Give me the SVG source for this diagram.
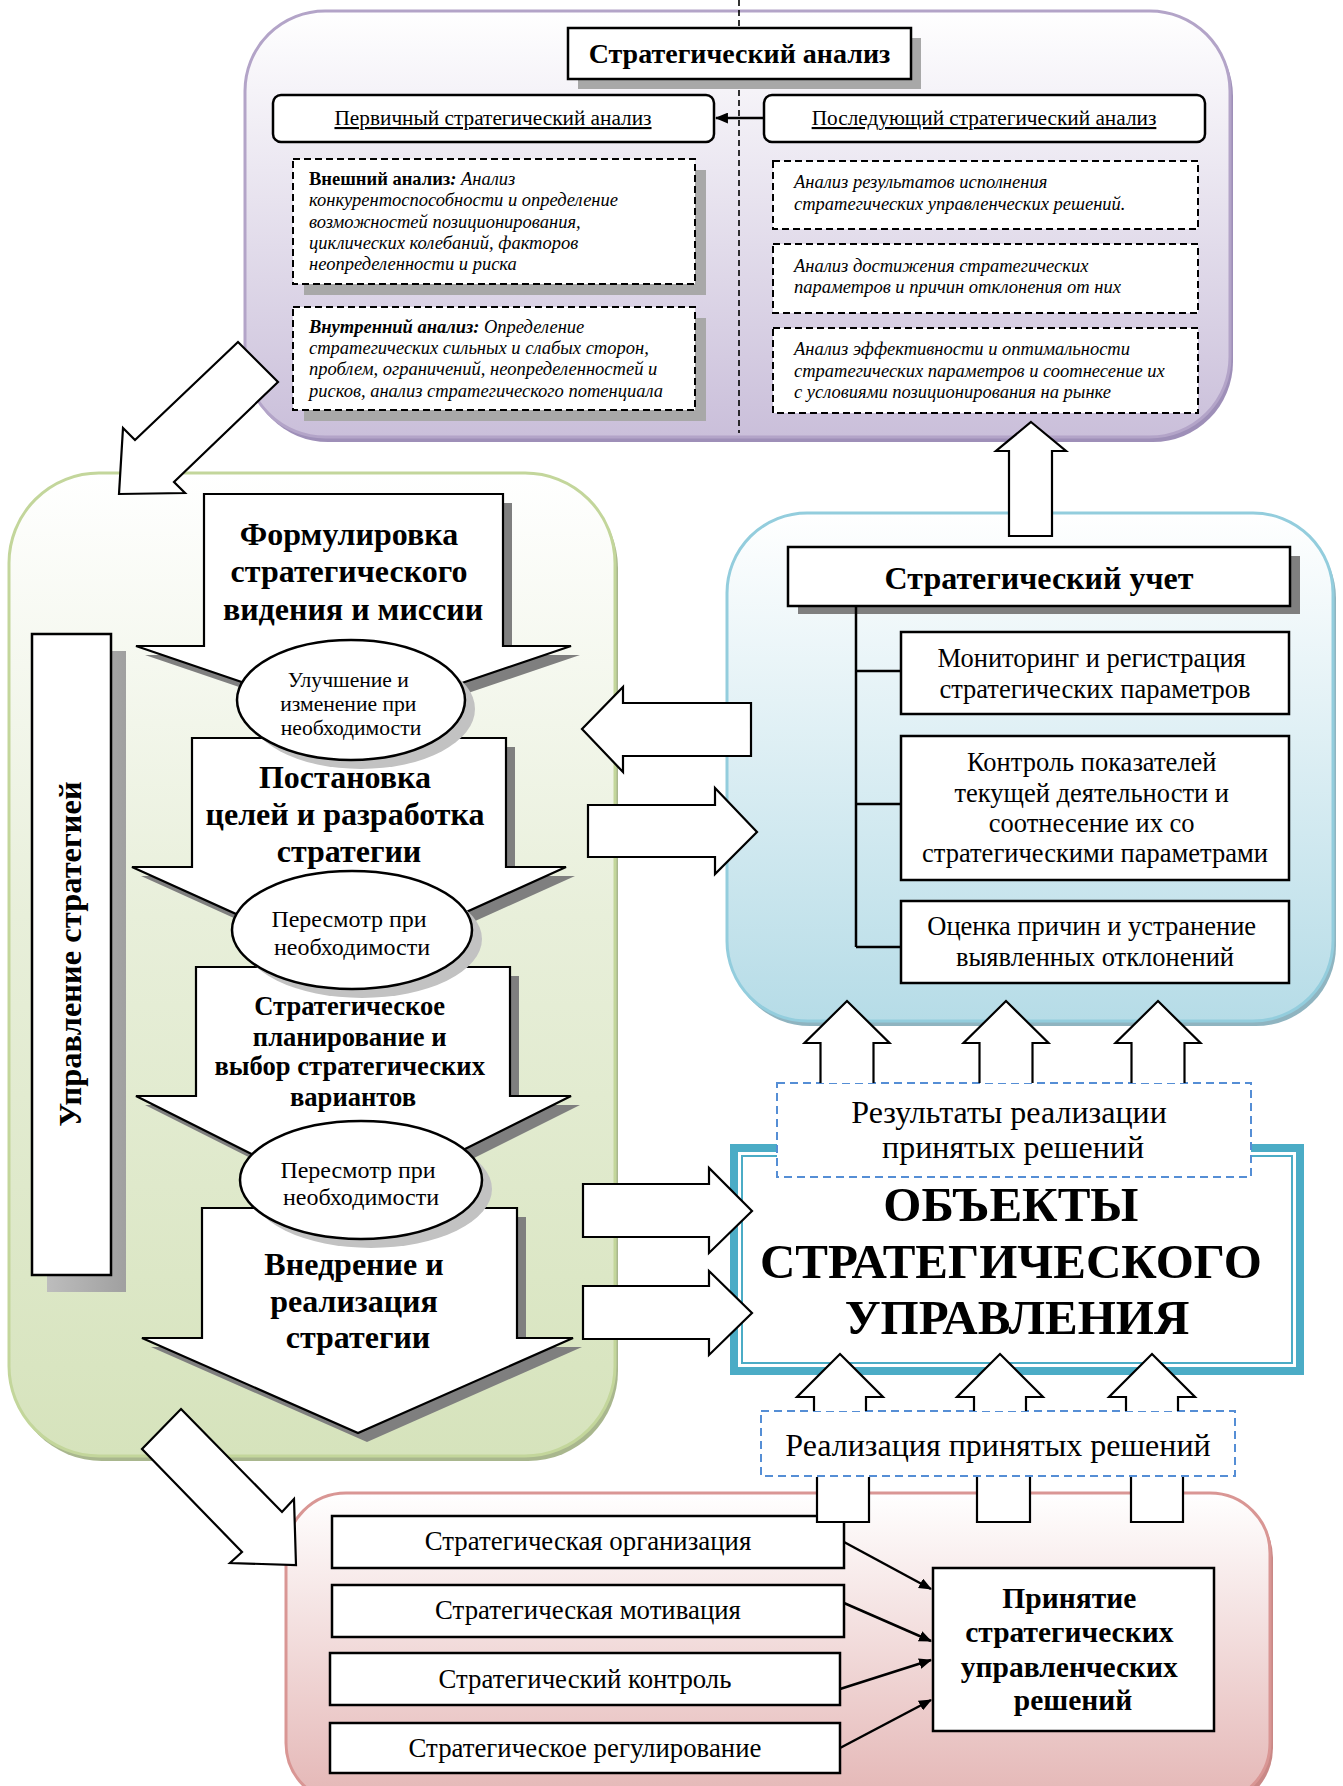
<svg xmlns="http://www.w3.org/2000/svg" width="1343" height="1786" viewBox="0 0 1343 1786">
  <defs>
    <linearGradient id="gPurple" x1="0" y1="0" x2="0" y2="1">
      <stop offset="0" stop-color="#ffffff"/>
      <stop offset="1" stop-color="#cabfda"/>
    </linearGradient>
    <linearGradient id="gGreen" x1="0" y1="0" x2="0" y2="1">
      <stop offset="0" stop-color="#ffffff"/>
      <stop offset="0.45" stop-color="#e8efda"/>
      <stop offset="1" stop-color="#d6e3bc"/>
    </linearGradient>
    <linearGradient id="gBlue" x1="0" y1="0" x2="0" y2="1">
      <stop offset="0" stop-color="#ffffff"/>
      <stop offset="1" stop-color="#b6dce7"/>
    </linearGradient>
    <linearGradient id="gPink" x1="0" y1="0" x2="0" y2="1">
      <stop offset="0" stop-color="#ffffff"/>
      <stop offset="1" stop-color="#e4b6b5"/>
    </linearGradient>
    <linearGradient id="gShadowV" x1="0" y1="0" x2="1" y2="0">
      <stop offset="0" stop-color="#bdbdbd"/>
      <stop offset="1" stop-color="#a0a0a0"/>
    </linearGradient>
    <marker id="ah" viewBox="0 0 12 10" refX="11" refY="5" markerWidth="13" markerHeight="11" markerUnits="userSpaceOnUse" orient="auto">
      <path d="M0,0 L12,5 L0,10 z" fill="#000"/>
    </marker>
    <style>
      .f { font-family: "Liberation Serif", "Times New Roman", serif; fill: #000; }
      .b { font-weight: bold; }
      .i { font-style: italic; }
      .c { text-anchor: middle; }
      .bx { fill: #fff; stroke: #000; stroke-width: 2.5; }
      .arw { fill: #fff; stroke: #000; stroke-width: 2.2; stroke-linejoin: miter; }
      .dsh { fill: #fff; stroke: #000; stroke-width: 2; stroke-dasharray: 7 4; }
      .bdash { fill: #fff; stroke: #558ed5; stroke-width: 2; stroke-dasharray: 8 5; }
      .sd { fill: #7f7f7f; }
      .sl { fill: #a8a8a8; }
      .se { fill: #c2c2c2; }
      .ln { fill: none; stroke: #000; stroke-width: 2.5; }
    </style>
  </defs>

  <rect x="0" y="0" width="1343" height="1786" fill="#ffffff"/>

  <!-- ===== Strategic analysis panel ===== -->
  <g id="panel-analysis">
    <rect x="248" y="16" width="985" height="426" rx="80" fill="#9e8fb8"/>
    <rect x="245" y="11" width="985" height="426" rx="80" fill="url(#gPurple)" stroke="#b3a4c8" stroke-width="3"/>
    <line x1="739" y1="0" x2="739" y2="433" stroke="#000" stroke-width="1.6" stroke-dasharray="6 4"/>
  </g>

  <g id="node-analysis-title">
    <rect x="578" y="38" width="343" height="51" class="sl"/>
    <rect x="568" y="28" width="343" height="51" class="bx"/>
    <text x="739.5" y="63" class="f b c" font-size="28">Стратегический анализ</text>
  </g>

  <g id="node-primary">
    <rect x="273" y="95" width="441" height="47" rx="8" class="bx"/>
    <text x="493" y="125" class="f c" font-size="21.3" text-decoration="underline">Первичный стратегический анализ</text>
  </g>

  <g id="node-subsequent">
    <rect x="764" y="95" width="441" height="47" rx="8" class="bx"/>
    <text x="984" y="125" class="f c" font-size="21.3" text-decoration="underline">Последующий стратегический анализ</text>
  </g>

  <g id="node-external">
    <rect x="304" y="170" width="402" height="125" class="sl"/>
    <rect x="293" y="159" width="402" height="125" class="dsh"/>
    <text class="f i" font-size="18.5">
      <tspan x="309" y="185"><tspan class="b" font-style="normal">Внешний анализ</tspan><tspan class="b">:</tspan> Анализ</tspan>
      <tspan x="309" y="206">конкурентоспособности и определение</tspan>
      <tspan x="309" y="228">возможностей позиционирования,</tspan>
      <tspan x="309" y="249">циклических колебаний, факторов</tspan>
      <tspan x="309" y="270">неопределенности и риска</tspan>
    </text>
  </g>

  <g id="node-internal">
    <rect x="304" y="318" width="402" height="103" class="sl"/>
    <rect x="293" y="307" width="402" height="103" class="dsh"/>
    <text class="f i" font-size="18.5">
      <tspan x="309" y="333"><tspan class="b">Внутренний анализ:</tspan> Определение</tspan>
      <tspan x="309" y="354">стратегических сильных и слабых сторон,</tspan>
      <tspan x="309" y="375">проблем, ограничений, неопределенностей и</tspan>
      <tspan x="309" y="397">рисков, анализ стратегического потенциала</tspan>
    </text>
  </g>

  <g id="node-results-analysis">
    <rect x="773" y="161" width="425" height="68" class="dsh"/>
    <text class="f i" font-size="18.5">
      <tspan x="794" y="188">Анализ результатов исполнения</tspan>
      <tspan x="794" y="210">стратегических управленческих решений.</tspan>
    </text>
  </g>

  <g id="node-deviation-analysis">
    <rect x="773" y="244" width="425" height="69" class="dsh"/>
    <text class="f i" font-size="18.5">
      <tspan x="794" y="272">Анализ достижения стратегических</tspan>
      <tspan x="794" y="293">параметров и причин отклонения от них</tspan>
    </text>
  </g>

  <g id="node-efficiency-analysis">
    <rect x="773" y="328" width="425" height="85" class="dsh"/>
    <text class="f i" font-size="18.5">
      <tspan x="794" y="355">Анализ эффективности и оптимальности</tspan>
      <tspan x="794" y="377">стратегических параметров и соотнесение их</tspan>
      <tspan x="794" y="398">с условиями позиционирования на рынке</tspan>
    </text>
  </g>

  <!-- ===== Strategy management panel ===== -->
  <g id="panel-management">
    <rect x="12" y="478" width="606" height="983" rx="90" fill="#a9b78e"/>
    <rect x="9" y="473" width="606" height="983" rx="90" fill="url(#gGreen)" stroke="#c3d69b" stroke-width="3"/>
  </g>

  <g id="node-management-label">
    <rect x="47" y="651" width="79" height="641" fill="url(#gShadowV)"/>
    <rect x="32" y="634" width="79" height="641" class="bx"/>
    <text transform="translate(81,954) rotate(-90)" x="0" y="0" class="f b c" font-size="32.5">Управление стратегией</text>
  </g>

  <g id="node-vision">
    <polygon transform="translate(9,9)" class="sd" points="204,494 503,494 503,646 571,646 353,720 136,646 204,646"/>
    <polygon class="arw" points="204,494 503,494 503,646 571,646 353,720 136,646 204,646"/>
    <text class="f b c" font-size="32">
      <tspan x="353" y="545">Формулировка</tspan>
      <tspan x="353" y="582">стратегического</tspan>
      <tspan x="353" y="620">видения и миссии</tspan>
    </text>
  </g>

  <g id="node-goals">
    <polygon transform="translate(9,9)" class="sd" points="192,738 506,738 506,867 566,867 349,965 132,867 192,867"/>
    <polygon class="arw" points="192,738 506,738 506,867 566,867 349,965 132,867 192,867"/>
    <text class="f b c" font-size="32">
      <tspan x="349" y="788">Постановка</tspan>
      <tspan x="349" y="825">целей и разработка</tspan>
      <tspan x="349" y="862">стратегии</tspan>
    </text>
  </g>

  <g id="node-planning">
    <polygon transform="translate(9,9)" class="sd" points="196,967 510,967 510,1096 571,1096 353,1205 136,1096 196,1096"/>
    <polygon class="arw" points="196,967 510,967 510,1096 571,1096 353,1205 136,1096 196,1096"/>
    <text class="f b c" font-size="26.6">
      <tspan x="353" y="1015">Стратегическое</tspan>
      <tspan x="353" y="1046">планирование и</tspan>
      <tspan x="353" y="1075">выбор стратегических</tspan>
      <tspan x="353" y="1106">вариантов</tspan>
    </text>
  </g>

  <g id="node-implementation">
    <polygon transform="translate(9,9)" class="sd" points="202,1208 517,1208 517,1338 573,1338 358,1433 142,1338 202,1338"/>
    <polygon class="arw" points="202,1208 517,1208 517,1338 573,1338 358,1433 142,1338 202,1338"/>
    <text class="f b c" font-size="32">
      <tspan x="358" y="1275">Внедрение и</tspan>
      <tspan x="358" y="1312">реализация</tspan>
      <tspan x="358" y="1348">стратегии</tspan>
    </text>
  </g>

  <g id="node-improve">
    <ellipse cx="361" cy="709" rx="114" ry="60" class="se"/>
    <ellipse cx="351" cy="700" rx="114" ry="60" class="bx"/>
    <text class="f c" font-size="21.6">
      <tspan x="351" y="687">Улучшение и</tspan>
      <tspan x="351" y="711">изменение при</tspan>
      <tspan x="351" y="735">необходимости</tspan>
    </text>
  </g>

  <g id="node-review-1">
    <ellipse cx="362" cy="939" rx="120" ry="59" class="se"/>
    <ellipse cx="352" cy="930" rx="120" ry="59" class="bx"/>
    <text class="f c" font-size="24">
      <tspan x="352" y="927">Пересмотр при</tspan>
      <tspan x="352" y="955">необходимости</tspan>
    </text>
  </g>

  <g id="node-review-2">
    <ellipse cx="371" cy="1189" rx="121" ry="59" class="se"/>
    <ellipse cx="361" cy="1180" rx="121" ry="59" class="bx"/>
    <text class="f c" font-size="24">
      <tspan x="361" y="1178">Пересмотр при</tspan>
      <tspan x="361" y="1205">необходимости</tspan>
    </text>
  </g>

  <!-- ===== Strategic accounting panel ===== -->
  <g id="panel-accounting">
    <rect x="730" y="518" width="606" height="508" rx="80" fill="#8fb4c0"/>
    <rect x="727" y="513" width="606" height="508" rx="80" fill="url(#gBlue)" stroke="#93cddd" stroke-width="3"/>
  </g>

  <g id="node-accounting-title">
    <rect x="798" y="556" width="502" height="58" class="sd"/>
    <rect x="788" y="547" width="502" height="59" class="bx"/>
    <text x="1039" y="589" class="f b c" font-size="32">Стратегический учет</text>
  </g>

  <g id="node-monitoring">
    <rect x="901" y="632" width="388" height="82" class="bx"/>
    <text class="f c" font-size="26.5">
      <tspan x="1095" y="667">Мониторинг и регистрация</tspan>
      <tspan x="1095" y="698">стратегических параметров</tspan>
    </text>
  </g>

  <g id="node-control">
    <rect x="901" y="736" width="388" height="144" class="bx"/>
    <text class="f c" font-size="26.5">
      <tspan x="1095" y="771">Контроль показателей</tspan>
      <tspan x="1095" y="802">текущей деятельности и</tspan>
      <tspan x="1095" y="832">соотнесение их со</tspan>
      <tspan x="1095" y="862">стратегическими параметрами</tspan>
    </text>
  </g>

  <g id="node-deviations">
    <rect x="901" y="901" width="388" height="82" class="bx"/>
    <text class="f c" font-size="26.5">
      <tspan x="1095" y="935">Оценка причин и устранение</tspan>
      <tspan x="1095" y="966">выявленных отклонений</tspan>
    </text>
  </g>

  <!-- ===== Objects of strategic management ===== -->
  <g id="node-objects">
    <rect x="730" y="1144" width="574" height="231" fill="#4bacc6"/>
    <rect x="738" y="1152" width="558" height="215" fill="#ffffff"/>
    <rect x="742" y="1156" width="550" height="207" fill="#ffffff" stroke="#4bacc6" stroke-width="2"/>
    <text class="f b c" font-size="49">
      <tspan x="1017" y="1221">ОБЪЕКТЫ</tspan>
      <tspan x="1017" y="1278">СТРАТЕГИЧЕСКОГО</tspan>
      <tspan x="1017" y="1334">УПРАВЛЕНИЯ</tspan>
    </text>
  </g>

  <g id="node-results">
    <rect x="777" y="1083" width="474" height="94" class="bdash"/>
    <text class="f c" font-size="32">
      <tspan x="1013" y="1123">Результаты реализации</tspan>
      <tspan x="1013" y="1158">принятых решений</tspan>
    </text>
  </g>

  <g id="node-realization">
    <rect x="761" y="1411" width="474" height="65" class="bdash"/>
    <text x="998" y="1456" class="f c" font-size="32">Реализация принятых решений</text>
  </g>

  <!-- ===== Decision making panel ===== -->
  <g id="panel-decisions">
    <rect x="289" y="1498" width="984" height="310" rx="60" fill="#c98886"/>
    <rect x="286" y="1493" width="984" height="310" rx="60" fill="url(#gPink)" stroke="#d99694" stroke-width="3"/>
  </g>

  <g id="node-organization">
    <rect x="332" y="1516" width="512" height="52" class="bx"/>
    <text x="588" y="1550" class="f c" font-size="26.8">Стратегическая организация</text>
  </g>

  <g id="node-motivation">
    <rect x="332" y="1585" width="512" height="52" class="bx"/>
    <text x="588" y="1619" class="f c" font-size="26.8">Стратегическая мотивация</text>
  </g>

  <g id="node-strategic-control">
    <rect x="330" y="1653" width="510" height="52" class="bx"/>
    <text x="585" y="1688" class="f c" font-size="26.8">Стратегический контроль</text>
  </g>

  <g id="node-regulation">
    <rect x="330" y="1723" width="510" height="50" class="bx"/>
    <text x="585" y="1757" class="f c" font-size="26.8">Стратегическое регулирование</text>
  </g>

  <g id="node-decisions">
    <rect x="933" y="1568" width="281" height="163" class="bx"/>
    <text class="f b c" font-size="29.5">
      <tspan x="1073" y="1608">Принятие</tspan>
      <tspan x="1073" y="1642">стратегических</tspan>
      <tspan x="1073" y="1677">управленческих</tspan>
      <tspan x="1073" y="1710">решений</tspan>
    </text>
  </g>

  <!-- ===== Connectors ===== -->
  <g id="connectors">
    <!-- subsequent analysis feeds primary analysis -->
    <line x1="763" y1="118" x2="716" y2="118" stroke="#000" stroke-width="2.5" marker-end="url(#ah)"/>

    <!-- analysis -> management -->
    <polygon class="arw" points="238,342 278,382 174,482 185,493 119,494 123,428 135,440"/>
    <!-- management -> decisions -->
    <polygon class="arw" points="181,1409 282,1512 294,1499 296,1565 230,1563 242,1552 142,1449"/>

    <!-- accounting <-> management -->
    <polygon class="arw" points="582,729 623,687 623,703 751,703 751,756 623,756 623,772"/>
    <polygon class="arw" points="588,805 715,805 715,788 757,832 715,874 715,857 588,857"/>

    <!-- management -> objects -->
    <polygon class="arw" points="583,1184 709,1184 709,1168 752,1211 709,1253 709,1237 583,1237"/>
    <polygon class="arw" points="583,1286 709,1286 709,1271 752,1313 709,1355 709,1339 583,1339"/>

    <!-- accounting -> analysis -->
    <polygon class="arw" points="1031,422 1066,451 1052,451 1052,536 1009,536 1009,451 996,451"/>

    <!-- results -> accounting -->
    <path class="arw" d="M820.5,1083 V1043 H804.5 L847,1001 L889.5,1043 H873.5 V1083"/>
    <path class="arw" d="M979.5,1083 V1043 H963.5 L1006,1001 L1048.5,1043 H1032.5 V1083"/>
    <path class="arw" d="M1131.5,1083 V1043 H1115.5 L1158,1001 L1200.5,1043 H1184.5 V1083"/>

    <!-- realization -> objects -->
    <path class="arw" d="M814,1411 V1397 H797 L840,1354 L883,1397 H866 V1411"/>
    <path class="arw" d="M974,1411 V1397 H957 L1000,1354 L1043,1397 H1026 V1411"/>
    <path class="arw" d="M1126,1411 V1397 H1109 L1152,1354 L1195,1397 H1178 V1411"/>

    <!-- decisions -> realization -->
    <path class="arw" d="M817,1477 V1522 H869 V1477"/>
    <path class="arw" d="M977,1477 V1522 H1030 V1477"/>
    <path class="arw" d="M1131,1477 V1522 H1183 V1477"/>

    <!-- accounting tree -->
    <path class="ln" d="M856,606 V947 M856,671 H901 M856,804 H901 M856,947 H901"/>

    <!-- functions -> decision making -->
    <line x1="844" y1="1542" x2="931" y2="1589" stroke="#000" stroke-width="2.5" marker-end="url(#ah)"/>
    <line x1="844" y1="1603" x2="931" y2="1641" stroke="#000" stroke-width="2.5" marker-end="url(#ah)"/>
    <line x1="840" y1="1689" x2="931" y2="1660" stroke="#000" stroke-width="2.5" marker-end="url(#ah)"/>
    <line x1="840" y1="1748" x2="931" y2="1700" stroke="#000" stroke-width="2.5" marker-end="url(#ah)"/>
  </g>
</svg>
